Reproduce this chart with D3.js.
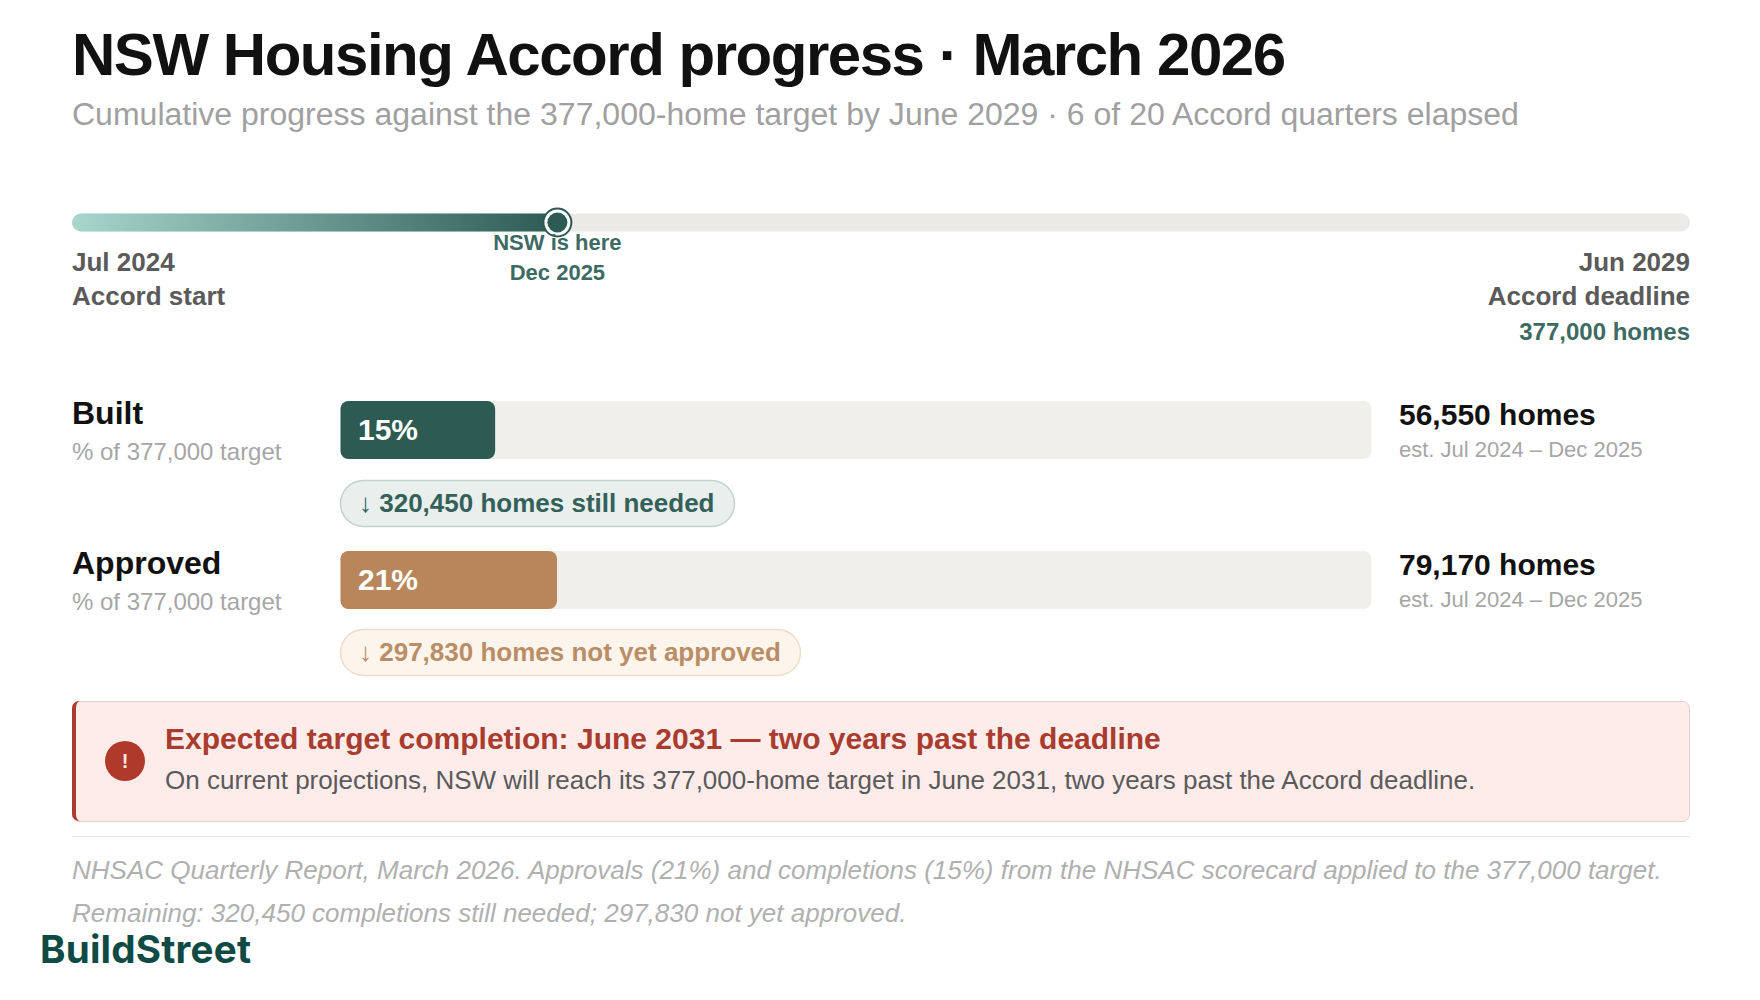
<!DOCTYPE html>
<html><head><meta charset="utf-8">
<style>html,body{margin:0;padding:0;background:#fff}svg{display:block}text{font-family:"Liberation Sans",Arial,sans-serif}</style>
<script src="https://cdn.jsdelivr.net/npm/d3@7"></script></head>
<body><div id="chart"></div>
<script>
const target = 377000;
const quartersElapsed = 6, quartersTotal = 20;
const categories = ["Built", "Approved"];
const percents = [15, 21];
const homes = ["56,550 homes", "79,170 homes"];
const remaining = ["↓ 320,450 homes still needed", "↓ 297,830 homes not yet approved"];
const barColors = ["#2d5a52", "#b8865a"];
const pillText = ["#34605a", "#b98d66"];
const pillFill = ["#e9efed", "#fdf4ec"];
const pillStroke = ["#c3d2ce", "#ecdccb"];
const footnotes = ["NHSAC Quarterly Report, March 2026. Approvals (21%) and completions (15%) from the NHSAC scorecard applied to the 377,000 target.",
  "Remaining: 320,450 completions still needed; 297,830 not yet approved."];

const svg = d3.select("#chart").append("svg").attr("width",1760).attr("height",1000);
const T = (x,y,s,size,fill,opt={}) => svg.append("text").attr("x",x).attr("y",y).text(s)
  .attr("font-size",size).attr("fill",fill).attr("font-weight",opt.w||"normal")
  .attr("text-anchor",opt.a||"start").attr("font-style",opt.i||"normal")
  .attr("letter-spacing",opt.ls||0).style("font-family",opt.f||null);

T(72,75,"NSW Housing Accord progress · March 2026",60,"#111111",{w:"bold",ls:-1.47});
T(72,125,"Cumulative progress against the 377,000-home target by June 2029 · 6 of 20 Accord quarters elapsed",32.03,"#a0a0a0");

// Timeline
const tx = d3.scaleLinear().domain([0,quartersTotal]).range([72,1690]);
const grad = svg.append("defs").append("linearGradient").attr("id","tl");
grad.append("stop").attr("offset","0%").attr("stop-color","#a8d5cc");
grad.append("stop").attr("offset","100%").attr("stop-color","#2d5a52");
const tlY=213.5, tlH=18;
svg.append("rect").attr("x",tx(0)).attr("y",tlY).attr("width",tx(quartersTotal)-tx(0)).attr("height",tlH).attr("rx",9).attr("fill","#ebeae6");
svg.append("rect").attr("x",tx(0)).attr("y",tlY).attr("width",tx(quartersElapsed)-tx(0)).attr("height",tlH).attr("rx",9).attr("fill","url(#tl)");
svg.append("circle").attr("cx",tx(quartersElapsed)).attr("cy",222.5).attr("r",14).attr("fill","#fff").attr("stroke","#2d5a52").attr("stroke-width",2);
svg.append("circle").attr("cx",tx(quartersElapsed)).attr("cy",222.5).attr("r",10).attr("fill","#2d5a52");
T(tx(quartersElapsed),250,"NSW is here",22,"#3d6a62",{w:"bold",a:"middle"});
T(tx(quartersElapsed),279.5,"Dec 2025",22,"#3d6a62",{w:"bold",a:"middle"});
T(72,271,"Jul 2024",26,"#5a5a5a",{w:"bold"});
T(72,305,"Accord start",26,"#5a5a5a",{w:"bold"});
T(1690,271,"Jun 2029",26,"#5a5a5a",{w:"bold",a:"end"});
T(1690,305,"Accord deadline",26,"#5a5a5a",{w:"bold",a:"end"});
T(1690,340,"377,000 homes",24,"#3d6a62",{w:"bold",a:"end"});

// Bars
const bx = d3.scaleLinear().domain([0,100]).range([340.5,1371.5]);
const rowY = [401,551], pillY=[480,629], pillW=[394,460], barH=58;
categories.forEach((c,i)=>{
  const y=rowY[i];
  T(72,y+23,c,32,"#111111",{w:"bold"});
  T(72,y+59,"% of 377,000 target",24,"#a6a6a6");
  svg.append("rect").attr("x",bx(0)).attr("y",y).attr("width",bx(100)-bx(0)).attr("height",barH).attr("rx",8).attr("fill","#f0efeb");
  svg.append("rect").attr("x",bx(0)).attr("y",y).attr("width",bx(percents[i])-bx(0)).attr("height",barH).attr("rx",8).attr("fill",barColors[i]);
  T(358,y+39,percents[i]+"%",30,"#ffffff",{w:"bold"});
  T(1399,y+24,homes[i],30,"#111111",{w:"bold"});
  T(1399,y+56,"est. Jul 2024 – Dec 2025",22,"#a6a6a6");
  svg.append("rect").attr("x",340.5).attr("y",pillY[i]+.5).attr("width",pillW[i]).attr("height",46).attr("rx",23).attr("fill",pillFill[i]).attr("stroke",pillStroke[i]).attr("stroke-width",1.5);
  T(359,pillY[i]+32,remaining[i],26,pillText[i],{w:"bold"});
});

// Alert
svg.append("rect").attr("x",72.5).attr("y",701.5).attr("width",1617).attr("height",120).attr("rx",7).attr("fill","#fdecea").attr("stroke","#e5cfcc");
svg.append("path").attr("d","M80 701 h-1 a7 7 0 0 0 -7 7 v106 a7 7 0 0 0 7 7 h1 a4 7 0 0 1 -4 -7 v-106 a4 7 0 0 1 4 -7 z").attr("fill","#a93c2e");
svg.append("circle").attr("cx",125).attr("cy",761).attr("r",20).attr("fill","#b03a2a");
T(125,768,"!",20,"#fde9e6",{w:"bold",a:"middle"});
T(165,749,"Expected target completion: June 2031 — two years past the deadline",30.03,"#a93c2e",{w:"bold"});
T(165,789,"On current projections, NSW will reach its 377,000-home target in June 2031, two years past the Accord deadline.",26.02,"#5a5a5a");

svg.append("line").attr("x1",72).attr("x2",1690).attr("y1",836.5).attr("y2",836.5).attr("stroke","#e6e6e6");
footnotes.forEach((f,i)=>T(72,[879,922][i],f,26.02,"#b0b0b0",{i:"italic"}));
T(40,963,"BuildStreet",38.6,"#0f4a45",{w:"700",f:"Inter",ls:0.2});
</script></body></html>
